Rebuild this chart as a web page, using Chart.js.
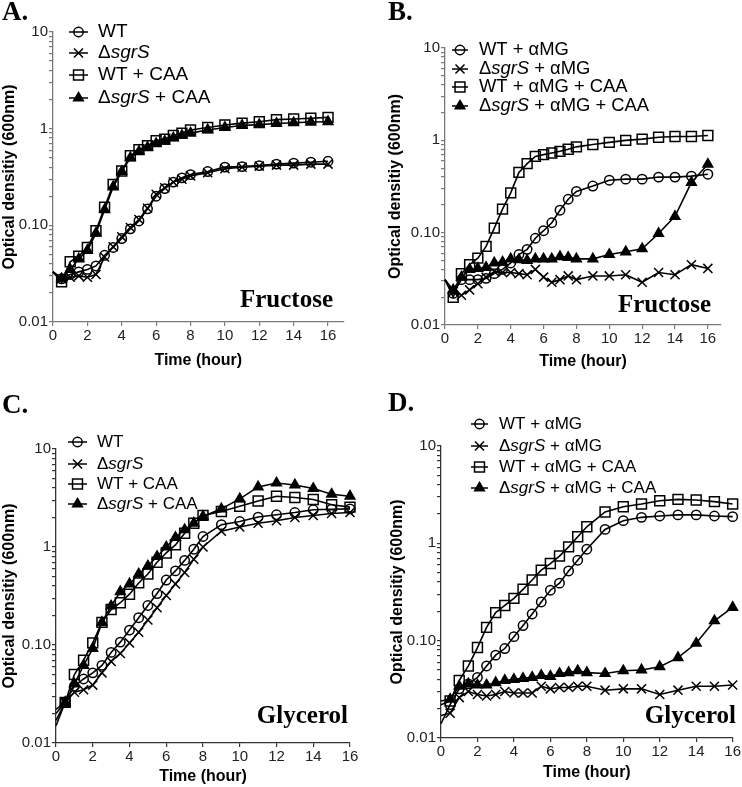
<!DOCTYPE html>
<html lang="en">
<head>
    <meta charset="UTF-8">
    <title>Growth curves - sgrS mutant with fructose and glycerol</title>
    <script src="https://cdn.jsdelivr.net/npm/chart.js"></script>
    <style>
        body { margin: 0; background: #ffffff; }
        #wrap { position: relative; width: 742px; height: 787px; }
        canvas { position: absolute; }
    </style>
</head>
<body>
<div id="wrap">
    <canvas id="panelA" width="371" height="390" style="left:0px;top:0px"></canvas>
    <canvas id="panelB" width="371" height="390" style="left:371px;top:0px"></canvas>
    <canvas id="panelC" width="371" height="397" style="left:0px;top:390px"></canvas>
    <canvas id="panelD" width="371" height="397" style="left:371px;top:390px"></canvas>
</div>
<script>
    // sampling times (hours); the 0 h point is drawn as line only
    const hours = [0, 0.5, 1, 1.5, 2, 2.5, 3, 3.5, 4, 4.5, 5, 5.5, 6, 6.5, 7, 7.5, 8, 9, 10, 11, 12, 13, 14, 15, 16];

    // axis ticks
    const xTicks = [0, 2, 4, 6, 8, 10, 12, 14, 16];
    const yMajorTicks = [0.01, 0.1, 1, 10];
    const yMajorLabels = ['0.01', '0.10', '1', '10'];

    // legend names (<i> = italic)
    const namesPlain = ['WT', 'Δ<i>sgrS</i>', 'WT + CAA', 'Δ<i>sgrS</i> + CAA'];
    const namesAmg = ['WT + αMG', 'Δ<i>sgrS</i> + αMG', 'WT + αMG + CAA', 'Δ<i>sgrS</i> + αMG + CAA'];

    // A. fructose
    const wtA      = [0.033, 0.028, 0.031, 0.033, 0.035, 0.038, 0.049, 0.059, 0.073, 0.092, 0.111, 0.148, 0.20, 0.24, 0.28, 0.31, 0.335, 0.36, 0.40, 0.405, 0.415, 0.43, 0.44, 0.45, 0.46];
    const sgrA     = [0.033, 0.028, 0.029, 0.030, 0.029, 0.031, 0.047, 0.060, 0.076, 0.095, 0.115, 0.15, 0.21, 0.245, 0.28, 0.30, 0.325, 0.35, 0.385, 0.40, 0.41, 0.42, 0.42, 0.43, 0.43];
    const wtCaaA   = [0.033, 0.026, 0.042, 0.048, 0.059, 0.088, 0.154, 0.265, 0.365, 0.525, 0.607, 0.667, 0.75, 0.78, 0.85, 0.90, 0.97, 1.03, 1.09, 1.14, 1.18, 1.24, 1.26, 1.28, 1.31];
    const sgrCaaA  = [0.033, 0.028, 0.035, 0.045, 0.055, 0.083, 0.145, 0.25, 0.36, 0.50, 0.58, 0.64, 0.70, 0.74, 0.80, 0.85, 0.90, 0.97, 1.03, 1.08, 1.10, 1.13, 1.15, 1.17, 1.18];

    // B. fructose + aMG
    const wtB      = [0.031, 0.022, 0.031, 0.031, 0.031, 0.032, 0.036, 0.040, 0.047, 0.058, 0.066, 0.087, 0.105, 0.128, 0.175, 0.23, 0.28, 0.32, 0.37, 0.38, 0.38, 0.40, 0.40, 0.41, 0.43];
    const sgrB     = [0.031, 0.023, 0.021, 0.024, 0.028, 0.033, 0.038, 0.037, 0.037, 0.036, 0.035, 0.040, 0.033, 0.029, 0.031, 0.034, 0.031, 0.034, 0.034, 0.035, 0.029, 0.037, 0.035, 0.045, 0.041];
    const wtCaaB   = [0.031, 0.020, 0.036, 0.045, 0.053, 0.071, 0.112, 0.18, 0.27, 0.45, 0.56, 0.67, 0.70, 0.73, 0.76, 0.80, 0.85, 0.90, 0.95, 1.00, 1.03, 1.08, 1.10, 1.10, 1.13];
    const sgrCaaB  = [0.031, 0.024, 0.033, 0.040, 0.041, 0.042, 0.047, 0.048, 0.052, 0.051, 0.050, 0.052, 0.052, 0.052, 0.055, 0.054, 0.052, 0.052, 0.058, 0.062, 0.067, 0.098, 0.15, 0.35, 0.55];

    // C. glycerol
    const wtC      = [0.022, 0.026, 0.038, 0.045, 0.052, 0.062, 0.084, 0.107, 0.142, 0.19, 0.253, 0.335, 0.46, 0.57, 0.73, 0.95, 1.28, 1.69, 1.82, 2.02, 2.13, 2.25, 2.40, 2.43, 2.45];
    const sgrC     = [0.020, 0.026, 0.033, 0.035, 0.039, 0.052, 0.068, 0.082, 0.105, 0.135, 0.18, 0.24, 0.32, 0.42, 0.55, 0.75, 1.00, 1.45, 1.60, 1.75, 1.85, 2.00, 2.10, 2.20, 2.25];
    const wtCaaC   = [0.017, 0.026, 0.050, 0.070, 0.105, 0.17, 0.23, 0.27, 0.33, 0.43, 0.53, 0.70, 0.87, 1.05, 1.38, 1.75, 2.10, 2.30, 2.60, 2.95, 3.30, 3.20, 3.05, 2.70, 2.55];
    const sgrCaaC  = [0.015, 0.026, 0.040, 0.062, 0.092, 0.17, 0.25, 0.35, 0.42, 0.53, 0.64, 0.80, 1.00, 1.25, 1.50, 1.75, 2.05, 2.45, 3.10, 4.10, 4.50, 4.30, 3.95, 3.45, 3.30];

    // D. glycerol + aMG
    const wtD      = [0.014, 0.022, 0.032, 0.036, 0.042, 0.055, 0.071, 0.083, 0.11, 0.143, 0.188, 0.25, 0.33, 0.39, 0.52, 0.67, 0.87, 1.39, 1.71, 1.85, 1.91, 1.96, 1.96, 1.91, 1.88];
    const sgrD     = [0.017, 0.018, 0.026, 0.030, 0.028, 0.027, 0.028, 0.030, 0.029, 0.029, 0.029, 0.034, 0.032, 0.033, 0.033, 0.034, 0.034, 0.031, 0.032, 0.032, 0.028, 0.031, 0.034, 0.034, 0.035];
    const wtCaaD   = [0.022, 0.024, 0.039, 0.055, 0.085, 0.137, 0.194, 0.23, 0.272, 0.337, 0.42, 0.53, 0.62, 0.74, 0.92, 1.17, 1.48, 2.10, 2.38, 2.54, 2.74, 2.83, 2.79, 2.68, 2.54];
    const sgrCaaD  = [0.024, 0.025, 0.034, 0.036, 0.035, 0.035, 0.037, 0.039, 0.040, 0.041, 0.042, 0.044, 0.043, 0.046, 0.047, 0.049, 0.047, 0.046, 0.049, 0.050, 0.054, 0.067, 0.094, 0.16, 0.22];

    // marker look per series: open circle, x, open square, filled triangle
    const markerStyle = ['circle', 'crossRot', 'rect', 'triangle'];
    const markerSize = [4.7, 6.4, 7, 5.6];
    const markerFill = ['rgba(0,0,0,0)', 'rgba(0,0,0,0)', 'rgba(0,0,0,0)', '#000'];

    const SANS = '"Liberation Sans", Arial, sans-serif';
    const SERIF = '"Liberation Serif", "Times New Roman", serif';

    // minor log ticks 2..9 within each decade
    const yAllTicks = [];
    yMajorTicks.forEach((d, i) => {
        yAllTicks.push(d);
        if (i < yMajorTicks.length - 1) {
            for (let m = 2; m <= 9; m++) yAllTicks.push(+(m * d).toFixed(4));
        }
    });

    function drawMarker(ctx, style, x, y, r, fill) {
        ctx.beginPath();
        if (style === 'circle') {
            ctx.arc(x, y, r, 0, Math.PI * 2);
        } else if (style === 'rect') {
            const s = Math.SQRT1_2 * r;
            ctx.rect(x - s, y - s, 2 * s, 2 * s);
        } else if (style === 'triangle') {
            ctx.moveTo(x, y - r);
            ctx.lineTo(x + r * Math.sin(Math.PI * 2 / 3), y - r * Math.cos(Math.PI * 2 / 3));
            ctx.lineTo(x + r * Math.sin(Math.PI * 4 / 3), y - r * Math.cos(Math.PI * 4 / 3));
            ctx.closePath();
        } else {
            const o = Math.SQRT1_2 * r;
            ctx.moveTo(x - o, y - o); ctx.lineTo(x + o, y + o);
            ctx.moveTo(x - o, y + o); ctx.lineTo(x + o, y - o);
        }
        if (fill !== 'rgba(0,0,0,0)') { ctx.fillStyle = fill; ctx.fill(); }
        ctx.stroke();
    }

    // legend + panel letter + sugar label
    const annotPlugin = {
        id: 'annot',
        afterDraw(chart, args, o) {
            const ctx = chart.ctx;
            ctx.save();
            ctx.strokeStyle = '#000';
            ctx.lineWidth = 1.5;
            o.names.forEach((name, i) => {
                const y = o.legend.rows[i];
                ctx.beginPath();
                ctx.moveTo(o.legend.x1, y);
                ctx.lineTo(o.legend.x2, y);
                ctx.stroke();
                drawMarker(ctx, markerStyle[i], (o.legend.x1 + o.legend.x2) / 2, y, markerSize[i], markerFill[i]);
                let tx = o.legend.tx;
                ctx.fillStyle = '#000';
                ctx.textBaseline = 'middle';
                ctx.textAlign = 'left';
                name.split(/(<i>.*?<\/i>)/).filter(s => s).forEach(seg => {
                    const it = seg.startsWith('<i>');
                    const txt = seg.replace(/<\/?i>/g, '');
                    ctx.font = (it ? 'italic ' : '') + o.legend.size + 'px ' + SANS;
                    ctx.fillText(txt, tx, y);
                    tx += ctx.measureText(txt).width;
                });
            });
            ctx.font = 'bold 27px ' + SERIF;
            ctx.textBaseline = 'alphabetic';
            ctx.textAlign = 'left';
            ctx.fillText(o.letter, o.letterPos[0], o.letterPos[1]);
            ctx.font = 'bold 25px ' + SERIF;
            ctx.textAlign = 'right';
            ctx.fillText(o.sugar, o.sugarPos[0], o.sugarPos[1]);
            ctx.restore();
        }
    };

    function makePanel(id, p) {
        const datasets = p.series.map((vals, i) => ({
            label: p.names[i].replace(/<\/?i>/g, ''),
            data: hours.map((h, k) => ({ x: h, y: vals[k] })),
            borderColor: '#000',
            borderWidth: 1.6,
            pointStyle: markerStyle[i],
            pointRadius: c => (c.dataIndex === 0 ? 0 : markerSize[i]),
            pointBorderColor: '#000',
            pointBorderWidth: 1.5,
            pointBackgroundColor: markerFill[i],
            tension: 0,
            clip: false
        }));

        new Chart(document.getElementById(id), {
            type: 'line',
            data: { datasets },
            options: {
                responsive: false,
                animation: false,
                events: [],
                devicePixelRatio: 1,
                layout: { padding: { left: 0, top: p.top, right: p.right, bottom: p.bottomPad } },
                plugins: {
                    legend: { display: false },
                    tooltip: { enabled: false },
                    annot: {
                        names: p.names, legend: p.legend,
                        letter: p.letter, letterPos: p.letterPos,
                        sugar: p.sugar, sugarPos: p.sugarPos
                    }
                },
                scales: {
                    x: {
                        type: 'linear',
                        min: 0,
                        max: p.xMax,
                        afterBuildTicks: s => { s.ticks = xTicks.map(v => ({ value: v })); },
                        afterFit: s => { s.height = p.xHeight; },
                        ticks: { color: '#222', font: { size: 15, family: SANS }, padding: 1, autoSkip: false, maxRotation: 0 },
                        grid: { drawOnChartArea: false, drawTicks: true, tickLength: 4, color: p.axisColor, lineWidth: 1.2 },
                        border: { display: true, color: p.axisColor, width: 1.3 },
                        title: { display: true, text: 'Time (hour)', color: '#000', font: { size: 16, weight: 'bold', family: SANS }, padding: 0 }
                    },
                    y: {
                        type: 'logarithmic',
                        min: 0.01,
                        max: 10,
                        afterBuildTicks: s => { s.ticks = yAllTicks.map(v => ({ value: v })); },
                        afterFit: s => { s.width = p.yWidth; },
                        ticks: {
                            color: '#222', font: { size: 15, family: SANS }, padding: 1, autoSkip: false,
                            callback: v => { const k = yMajorTicks.indexOf(v); return k >= 0 ? yMajorLabels[k] : ''; }
                        },
                        grid: { drawOnChartArea: false, drawTicks: true, tickLength: 4, color: p.axisColor, lineWidth: 1.2 },
                        border: { display: true, color: p.axisColor, width: 1.3 },
                        title: { display: true, text: 'Optical densitiy (600nm)', color: '#000', font: { size: 16, weight: 'bold', family: SANS }, padding: { top: p.yTitlePad, bottom: 0 } }
                    }
                }
            },
            plugins: [annotPlugin]
        });
    }

    makePanel('panelA', {
        series: [wtA, sgrA, wtCaaA, sgrCaaA], names: namesPlain,
        top: 32, right: 27.5, bottomPad: 20, xHeight: 48, yWidth: 53, xMax: 16.9, yTitlePad: 0, axisColor: '#7a7a7a',
        legend: { rows: [32, 53, 75, 98], x1: 69, x2: 88, tx: 98, size: 19 },
        letter: 'A.', letterPos: [2, 20], sugar: 'Fructose', sugarPos: [333, 307]
    });
    makePanel('panelB', {
        series: [wtB, sgrB, wtCaaB, sgrCaaB], names: namesAmg,
        top: 48, right: 21, bottomPad: 18.4, xHeight: 46.6, yWidth: 74, xMax: 16.8, yTitlePad: 15, axisColor: '#7a7a7a',
        legend: { rows: [50, 69, 87, 106], x1: 81, x2: 97, tx: 108, size: 18.4 },
        letter: 'B.', letterPos: [17, 20], sugar: 'Fructose', sugarPos: [340, 312]
    });
    makePanel('panelC', {
        series: [wtC, sgrC, wtCaaC, sgrCaaC], names: namesPlain,
        top: 59, right: 21, bottomPad: 0.4, xHeight: 43.6, yWidth: 56, xMax: 16, yTitlePad: 0, axisColor: '#333',
        legend: { rows: [52, 74, 94, 114], x1: 68, x2: 87, tx: 97, size: 17 },
        letter: 'C.', letterPos: [2, 23], sugar: 'Glycerol', sugarPos: [348, 333]
    });
    makePanel('panelD', {
        series: [wtD, sgrD, wtCaaD, sgrCaaD], names: namesAmg,
        top: 56, right: 8, bottomPad: 4.4, xHeight: 44.6, yWidth: 70, xMax: 16, yTitlePad: 17, axisColor: '#333',
        legend: { rows: [34, 56, 77, 98], x1: 100, x2: 117, tx: 128, size: 17 },
        letter: 'D.', letterPos: [17, 21], sugar: 'Glycerol', sugarPos: [365, 333]
    });
</script>
</body>
</html>
